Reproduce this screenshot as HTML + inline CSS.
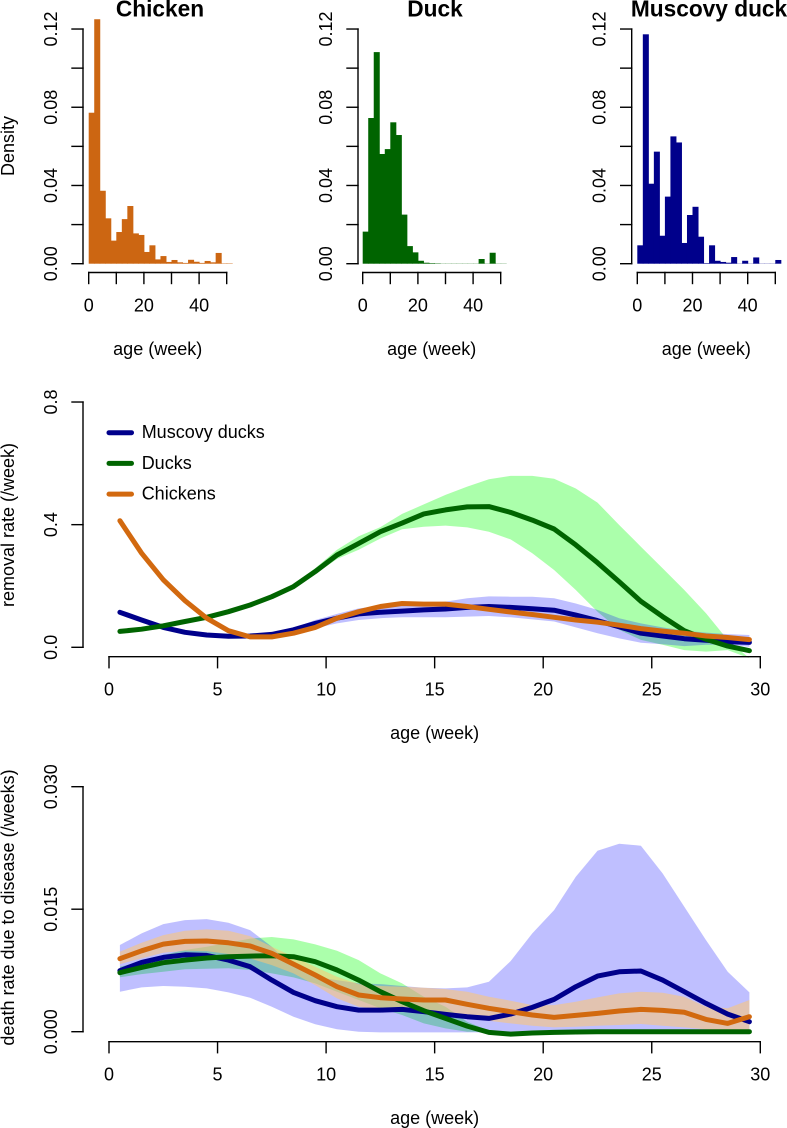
<!DOCTYPE html>
<html>
<head>
<meta charset="utf-8">
<title>Age distribution, removal rate and death rate by species</title>
<style>
html,body{margin:0;padding:0;background:#fff;}
svg{display:block;}
text{font-family:"Liberation Sans",Arial,sans-serif;fill:#000;}
</style>
</head>
<body>
<svg id="chart" xmlns="http://www.w3.org/2000/svg" width="787" height="1128" viewBox="0 0 787 1128"></svg>
<script>
const chickenDensity = [.0772,.125,.0373,.0232,.0118,.0162,.0228,.0295,.0155,.0147,.006,.0094,.0022,.0039,.0009,.0019,.0007,.0004,.002,.001,.0004,.0014,.0007,.0055,.0002,.0002];
const duckDensity = [.0164,.0745,.1082,.0561,.0586,.0723,.0658,.0251,.009,.0058,.0015,.0005,.0003,.0002,.0001,.0001,.0001,.0001,.0001,.0001,.0001,.0024,.0001,.0056,.0001,.0001];
const muscovyDensity = [.0094,.1173,.0409,.0573,.0143,.0343,.0651,.062,.0106,.0249,.0291,.0138,.0003,.0094,.0015,.0009,.0005,.0034,.0001,.0015,.0001,.0032,.0001,.0001,.0001,.0019];
const histBinWidth = 2;
const histXTicks = [0,10,20,30,40,50];
const histXLabels = ["0","","20","","40",""];
const histYTicks = [0,.02,.04,.06,.08,.1,.12];
const histYLabels = ["0.00","","0.04","","0.08","","0.12"];

const ageWeeks = [.5,1.5,2.5,3.5,4.5,5.5,6.5,7.5,8.5,9.5,10.5,11.5,12.5,13.5,14.5,15.5,16.5,17.5,18.5,19.5,20.5,21.5,22.5,23.5,24.5,25.5,26.5,27.5,28.5,29.5];
const ageTicks = [0,5,10,15,20,25,30];

const removalTicks = [0,.4,.8];
const removalTickLabels = ["0.0","0.4","0.8"];
const removalMuscovy = [.114,.089,.065,.049,.04,.036,.037,.042,.057,.078,.095,.109,.114,.118,.122,.125,.13,.133,.13,.126,.121,.105,.087,.067,.046,.037,.028,.023,.018,.016];
const removalMuscovyUpper = [.117,.092,.068,.052,.043,.039,.04,.047,.062,.089,.109,.127,.135,.138,.143,.149,.16,.166,.165,.165,.16,.143,.122,.095,.078,.065,.054,.048,.043,.04];
const removalMuscovyLower = [.111,.086,.062,.046,.037,.033,.034,.037,.046,.062,.078,.089,.095,.098,.098,.098,.1,.102,.098,.091,.084,.065,.046,.029,.015,.01,.004,.008,.008,.002];
const removalDuck = [.052,.059,.07,.084,.098,.116,.138,.165,.198,.247,.301,.339,.377,.405,.435,.448,.458,.459,.44,.415,.386,.334,.276,.214,.15,.1,.054,.026,.004,-.011];
const removalDuckUpper = [.054,.061,.072,.086,.101,.12,.143,.171,.206,.258,.318,.362,.392,.435,.466,.497,.524,.548,.559,.559,.55,.518,.472,.399,.328,.258,.187,.111,.024,-.036];
const removalDuckLower = [.05,.057,.068,.082,.096,.113,.134,.16,.191,.238,.288,.318,.355,.385,.393,.397,.391,.377,.352,.307,.252,.187,.116,.057,.024,.008,-.009,-.014,-.009,-.036];
const removalChicken = [.413,.307,.22,.152,.095,.054,.034,.034,.046,.065,.095,.116,.133,.143,.141,.141,.133,.124,.115,.107,.098,.089,.082,.072,.061,.053,.046,.037,.032,.025];

const deathTicks = [0,.015,.03];
const deathTickLabels = ["0.000","0.015","0.030"];
const deathMuscovy = [.00747,.00849,.0091,.00942,.00934,.00877,.00796,.00632,.00481,.00379,.00306,.00265,.00265,.00273,.00245,.00212,.00184,.00163,.00216,.00298,.00396,.00551,.00681,.00734,.00743,.00632,.0049,.00347,.00216,.00122];
const deathMuscovyUpper = [.01061,.01204,.01318,.01367,.01379,.01334,.01244,.0104,.00796,.00673,.00632,.00592,.00583,.00559,.00539,.0053,.00543,.00612,.00865,.01204,.01489,.01897,.02215,.02301,.02277,.01938,.0153,.01122,.00734,.00481];
const deathMuscovyLower = [.0049,.00543,.00559,.00551,.0053,.00481,.00416,.00306,.00184,.0009,.00029,0,-.00008,-.00008,-.00008,-.00008,-.00008,-.00008,-.00008,-.00008,-.00008,-.00008,-.00008,-.00008,-.00008,-.00008,-.00008,-.00008,-.00008,-.00008];
const deathDuck = [.00722,.00787,.00845,.00877,.00902,.00918,.00926,.0093,.00918,.00857,.00755,.00632,.0049,.00367,.00257,.00163,.00069,-.00008,-.00029,-.00016,-.00008,-.00004,0,0,0,0,0,0,0,0];
const deathDuckUpper = [.00796,.0086,.0094,.01,.0104,.0109,.0114,.0116,.0113,.01069,.00991,.00877,.00714,.00592,.00428,.00306,.00122,.00012,0,0,0,0,0,0,0,0,0,0,0,0];
const deathDuckLower = [.00666,.00705,.00735,.00764,.0077,.00776,.00755,.00714,.00665,.00592,.0049,.00388,.00286,.00204,.00102,.00041,0,0,0,0,0,0,0,0,0,0,0,0,0,0];
const deathChicken = [.00894,.00991,.01073,.01106,.0111,.01089,.01049,.00959,.00828,.00694,.00551,.00449,.00416,.004,.00388,.00388,.00335,.00286,.00245,.00204,.00175,.002,.00224,.00253,.00273,.00261,.00237,.00151,.00102,.00184];
const deathChickenUpper = [.00979,.01089,.01183,.01236,.01253,.01236,.01171,.0104,.00918,.00796,.00673,.00583,.00559,.00551,.00539,.00522,.0049,.00428,.00379,.00326,.00326,.00367,.0042,.00469,.0049,.00477,.00428,.00306,.00286,.00388];
const deathChickenLower = [.00828,.00898,.00967,.00991,.00987,.00951,.00898,.00816,.00714,.00571,.00408,.00306,.00273,.00245,.00233,.00233,.00184,.00135,.00102,.00073,.00053,.00061,.00073,.00082,.00094,.00073,.00053,.00029,.00012,.0002];

const legendNames = ["Muscovy ducks","Ducks","Chickens"];

const NAVY = "#00008b", GREEN = "#006400", ORANGE = "#d2690f";
const svg = document.getElementById("chart");
const SVGNS = "http://www.w3.org/2000/svg";

function mk(tag, attrs, parent) {
  const el = document.createElementNS(SVGNS, tag);
  for (const k in attrs) el.setAttribute(k, attrs[k]);
  (parent || svg).appendChild(el);
  return el;
}
function group(name) {
  const g = mk("g", {});
  
  
  return g;
}
function label(parent, str, x, y, size, opts) {
  const o = opts || {};
  const a = {x: x, y: y, "font-size": size, "text-anchor": "middle"};
  if (o.rotate) a.transform = "rotate(-90 " + x + " " + y + ")";
  if (o.bold) a["font-weight"] = "bold";
  if (o.anchor) a["text-anchor"] = o.anchor;
  const t = mk("text", a, parent);
  t.textContent = str;
  return t;
}
function line(parent, x1, y1, x2, y2) {
  return mk("line", {x1: x1, y1: y1, x2: x2, y2: y2, stroke: "#000", "stroke-width": 1.4, "stroke-linecap": "square"}, parent);
}
function yAxis(parent, axisX, ticks, labels, yFn) {
  const axis = line(parent, axisX, yFn(ticks[0]), axisX, yFn(ticks[ticks.length - 1]));
  
  
  ticks.forEach((v, i) => {
    const tick = line(parent, axisX - 11, yFn(v), axisX, yFn(v));
    
    
    if (labels[i]) {
      const t = label(parent, labels[i], axisX - 26, yFn(v), 18, {rotate: true});
      
      
    }
  });
}
function xAxis(parent, axisY, ticks, labels, xFn) {
  const axis = line(parent, xFn(ticks[0]), axisY, xFn(ticks[ticks.length - 1]), axisY);
  
  
  ticks.forEach((v, i) => {
    const tick = line(parent, xFn(v), axisY, xFn(v), axisY + 11);
    
    
    if (labels[i]) {
      const t = label(parent, labels[i], xFn(v), axisY + 39, 18);
      
      
    }
  });
  const title = label(parent, "age (week)", (xFn(ticks[0]) + xFn(ticks[ticks.length - 1])) / 2, axisY + 82.5, 18);
  
  
}

/* histograms */
function yHist(v) { return 263.7 - v * 1955.6; }
function drawHist(name, title, values, color, x0, axisX, titleX) {
  function xHist(v) { return x0 + v * 2.76; }
  const g = group(name);
  values.forEach((v, i) => {
    const bar = mk("rect", {
      x: xHist(i * histBinWidth),
      y: yHist(v),
      width: xHist((i + 1) * histBinWidth) - xHist(i * histBinWidth) + 0.5,
      height: yHist(0) - yHist(v),
      fill: color
    }, g);
    
    
  });
  yAxis(g, axisX, histYTicks, histYLabels, yHist);
  xAxis(g, 272.5, histXTicks, histXLabels, xHist);
  const t = label(g, title, titleX, 16.7, 22.7, {bold: true});
  
  
}
drawHist("chicken-histogram", "Chicken", chickenDensity, "#cc6612", 88.7, 83, 160);
drawHist("duck-histogram", "Duck", duckDensity, GREEN, 362.7, 358, 435);
drawHist("muscovy-histogram", "Muscovy duck", muscovyDensity, NAVY, 637.3, 631.7, 709);
const densityTitle = label(svg, "Density", 14, 146, 18, {rotate: true});



/* line panels */
function xAge(a) { return 109 + a * 21.71; }
function yRemoval(v) { return 647.3 - v * 306.6; }
function yDeath(v) { return 1031.7 - v * 8167; }

function band(parent, upper, lower, yFn, fill, opacity) {
  const pts = [];
  ageWeeks.forEach((a, i) => pts.push(xAge(a).toFixed(1) + "," + yFn(upper[i]).toFixed(1)));
  for (let i = ageWeeks.length - 1; i >= 0; i--) pts.push(xAge(ageWeeks[i]).toFixed(1) + "," + yFn(lower[i]).toFixed(1));
  return mk("polygon", {points: pts.join(" "), fill: fill, "fill-opacity": opacity}, parent);
}
function curve(parent, values, yFn, color) {
  const pts = ageWeeks.map((a, i) => xAge(a).toFixed(1) + "," + yFn(values[i]).toFixed(1));
  return mk("polyline", {points: pts.join(" "), fill: "none", stroke: color, "stroke-width": 5, "stroke-linecap": "round", "stroke-linejoin": "round"}, parent);
}

/* removal panel */
const removalG = group("removal-rate-panel");
const rBandDuck = band(removalG, removalDuckUpper, removalDuckLower, yRemoval, "#00ff00", .33);


const rBandMuscovy = band(removalG, removalMuscovyUpper, removalMuscovyLower, yRemoval, "#0000ff", .25);


const rLineMuscovy = curve(removalG, removalMuscovy, yRemoval, NAVY);


const rLineDuck = curve(removalG, removalDuck, yRemoval, GREEN);


const rLineChicken = curve(removalG, removalChicken, yRemoval, ORANGE);


yAxis(removalG, 83, removalTicks, removalTickLabels, yRemoval);
xAxis(removalG, 656.7, ageTicks, ageTicks.map(String), xAge);
const rTitle = label(removalG, "removal rate (/week)", 14, 525, 18, {rotate: true});



/* legend */
const legendG = group("legend");
[NAVY, GREEN, ORANGE].forEach((c, i) => {
  const ly = 432.7 + i * 30.7;
  const swatch = mk("line", {x1: 109, y1: ly, x2: 131.5, y2: ly, stroke: c, "stroke-width": 5, "stroke-linecap": "round"}, legendG);
  
  
  const t = label(legendG, legendNames[i], 141.7, ly + 5.5, 18, {anchor: "start"});
  
  
});

/* death panel */
const deathG = group("death-rate-panel");
const dBandDuck = band(deathG, deathDuckUpper, deathDuckLower, yDeath, "#00ff00", .33);


const dBandMuscovy = band(deathG, deathMuscovyUpper, deathMuscovyLower, yDeath, "#0000ff", .25);


const dBandChicken = band(deathG, deathChickenUpper, deathChickenLower, yDeath, "#ffc670", .55);


const dLineMuscovy = curve(deathG, deathMuscovy, yDeath, NAVY);


const dLineDuck = curve(deathG, deathDuck, yDeath, GREEN);


const dLineChicken = curve(deathG, deathChicken, yDeath, ORANGE);


yAxis(deathG, 83, deathTicks, deathTickLabels, yDeath);
xAxis(deathG, 1041.7, ageTicks, ageTicks.map(String), xAge);
const dTitle = label(deathG, "death rate due to disease (/weeks)", 14, 907.5, 18, {rotate: true});


</script>
</body>
</html>
